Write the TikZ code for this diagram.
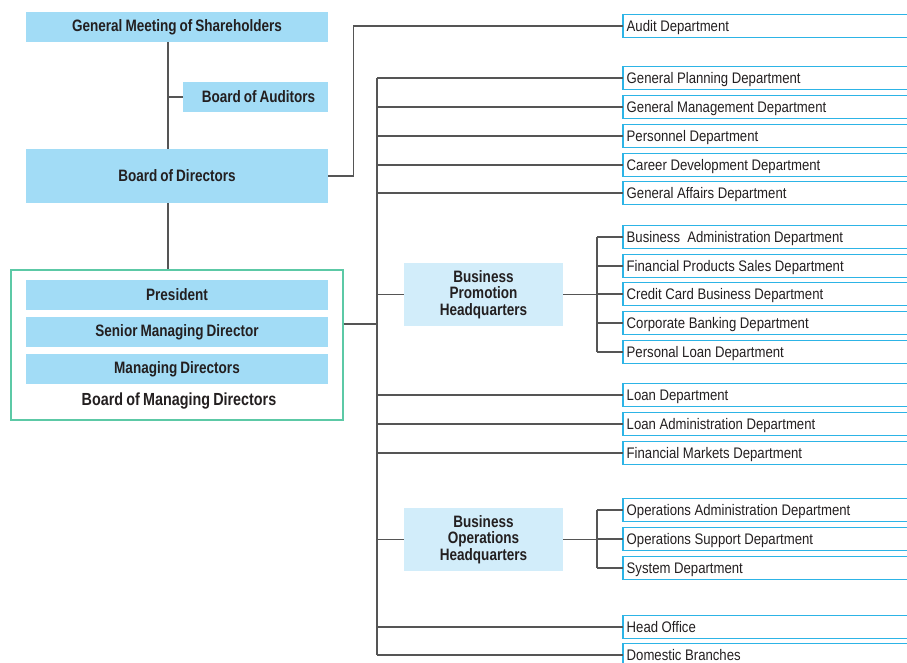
\documentclass[tikz,border=0pt]{standalone}
\usepackage{fontspec}
\setmainfont{Liberation Sans}[FakeStretch=0.82, WordSpace=0.8]
\newfontfamily\deptfont{Liberation Sans}[FakeStretch=0.86]
\usetikzlibrary{positioning}

\definecolor{boxblue}{HTML}{A2DCF6}
\definecolor{hqblue}{HTML}{D2EDFA}
\definecolor{deptline}{HTML}{2DB4E6}
\definecolor{frame}{HTML}{5CC9A6}
\definecolor{wire}{HTML}{555555}
\definecolor{ink}{HTML}{231F20}

\tikzset{
  exec/.style={fill=boxblue, minimum width=302pt, minimum height=30pt, inner sep=0pt,
    font=\fontsize{16.5}{17}\selectfont\bfseries, text=ink},
  hq/.style={fill=hqblue, minimum width=159pt, minimum height=63pt, inner sep=0pt, align=center,
    font=\fontsize{16.5}{16.5}\selectfont\bfseries, text=ink},
  dept/.style={anchor=west, minimum height=22pt, text width=260pt, align=left,
    inner xsep=3.5pt, inner ysep=0pt, text depth=0.5pt,
    font=\deptfont\fontsize{15.3}{17}\selectfont, text=ink,
    execute at begin node={\spaceskip=3.6pt\relax}},
  deptframe/.style={draw=deptline, line width=1.2pt},
  conn/.style={draw=wire, line width=1.3pt}
}

\begin{document}
\begin{tikzpicture}[x=1pt, y=-1pt]

  \useasboundingbox (0,0) rectangle (907,663);

  % executive side
  \node[exec] (gms) at (177, 27) {General Meeting of Shareholders};
  \node[exec, minimum width=145pt] (boa) at (255.5, 97) {\hspace{6pt}Board of Auditors};
  \node[exec, minimum height=54pt] (bod) at (177, 176) {Board of Directors};

  \node[draw=frame, line width=1.2pt, minimum width=332pt, minimum height=150pt, inner sep=0pt] (bmd) at (177, 345) {};
  \node[exec] (pres) at (177, 295) {President};
  \node[exec] (smd) at (177, 332) {Senior Managing Director};
  \node[exec] (md) at (177, 369) {Managing Directors};
  \node[font=\fontsize{17.5}{18}\selectfont\bfseries, text=ink] (bmdlabel) at (179, 401) {Board of Managing Directors};

  \coordinate (spine) at (168, 0);
  \draw[conn] (spine |- gms.south) -- (spine |- bod.north);
  \draw[conn] (spine |- boa.west) -- (boa.west);
  \draw[conn] (spine |- bod.south) -- (spine |- bmd.north);

  % departments
  \node[dept] (audit) at (623, 26) {Audit Department};
  \node[dept] (gplan) at (623, 78) {General Planning Department};
  \node[dept] (gman) at (623, 107) {General Management Department};
  \node[dept] (pers) at (623, 136) {Personnel Department};
  \node[dept] (career) at (623, 165) {Career Development Department};
  \node[dept] (gaff) at (623, 193) {General Affairs Department};

  \node[hq] (bph) at (483.5, 294.5) {Business\\Promotion\\Headquarters};
  \node[dept] (badm) at (623, 237) {Business\ \ Administration Department};
  \node[dept] (fps) at (623, 266) {Financial Products Sales Department};
  \node[dept] (ccb) at (623, 294) {Credit Card Business Department};
  \node[dept] (corp) at (623, 323) {Corporate Banking Department};
  \node[dept] (ploan) at (623, 352) {Personal Loan Department};

  \node[dept] (loan) at (623, 395) {Loan Department};
  \node[dept] (ladm) at (623, 424) {Loan Administration Department};
  \node[dept] (fmkt) at (623, 453) {Financial Markets Department};

  \node[hq] (boh) at (483.5, 539.5) {Business\\Operations\\Headquarters};
  \node[dept] (oadm) at (623, 510) {Operations Administration Department};
  \node[dept] (osup) at (623, 539) {Operations Support Department};
  \node[dept] (sys) at (623, 568) {System Department};

  \node[dept] (head) at (623, 627) {Head Office};
  \node[dept] (dom) at (623, 655) {Domestic Branches};

  % open-ended department frames, running off the right edge
  \coordinate (edge) at (930, 0);
  \foreach \d in {audit, gplan, gman, pers, career, gaff, badm, fps, ccb, corp, ploan,
                  loan, ladm, fmkt, oadm, osup, sys, head, dom}
    \draw[deptframe] (edge |- \d.north) -- (\d.north west) -- (\d.south west) -- (edge |- \d.south);

  % connectors
  \draw[conn] (bod.east) -- ++(25,0) |- (audit.west);

  \coordinate (trunk) at (377, 324);
  \draw[conn] (bmd.east |- trunk) -- (trunk);
  \draw[conn] (trunk |- gplan.west) -- (trunk |- dom.west);
  \foreach \d in {gplan, gman, pers, career, gaff, loan, ladm, fmkt, head, dom}
    \draw[conn] (trunk |- \d.west) -- (\d.west);
  \draw[conn] (trunk |- bph.west) -- (bph.west);
  \draw[conn] (trunk |- boh.west) -- (boh.west);

  \coordinate (fork) at (597, 0);
  \draw[conn] (bph.east) -- (fork |- bph.east);
  \draw[conn] (fork |- badm.west) -- (fork |- ploan.west);
  \foreach \d in {badm, fps, ccb, corp, ploan}
    \draw[conn] (fork |- \d.west) -- (\d.west);

  \draw[conn] (boh.east) -- (fork |- boh.east);
  \draw[conn] (fork |- oadm.west) -- (fork |- sys.west);
  \foreach \d in {oadm, osup, sys}
    \draw[conn] (fork |- \d.west) -- (\d.west);

\end{tikzpicture}
\end{document}
